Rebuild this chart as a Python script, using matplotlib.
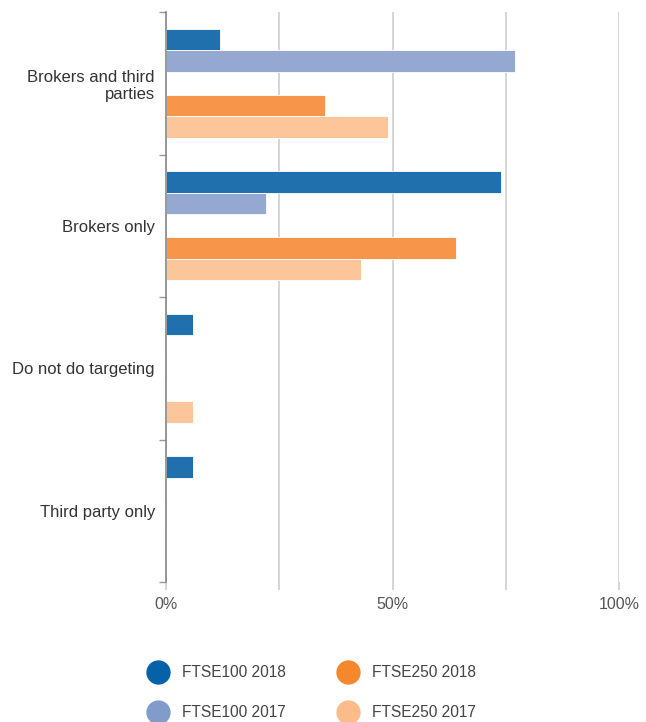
import matplotlib
matplotlib.use("agg")
import matplotlib.pyplot as plt
from matplotlib.lines import Line2D
import numpy as np

plt.rcParams["font.family"] = ["Liberation Sans", "DejaVu Sans"]

categories = ["Brokers and third\nparties", "Brokers only", "Do not do targeting", "Third party only"]
series_names = ["FTSE100 2018", "FTSE100 2017", "FTSE250 2018", "FTSE250 2017"]
ftse100_2018 = [12, 74, 6, 6]
ftse100_2017 = [77, 22, 0, 0]
ftse250_2018 = [35, 64, 0, 0]
ftse250_2017 = [49, 43, 6, 0]

bar_colors = ["#2170AE", "#94A8D1", "#F7964A", "#FDC59A"]
legend_colors = ["#0562A9", "#819CCB", "#F5872D", "#FCBC8A"]
offsets = [-0.308, -0.157, 0.157, 0.308]
bar_h = 0.151

fig = plt.figure(figsize=(6.46, 7.22), dpi=100)
ax = fig.add_axes([166 / 646, 1 - 582 / 722, (619 - 166) / 646, 570 / 722])

y = np.arange(len(categories))
for vals, off, col in zip([ftse100_2018, ftse100_2017, ftse250_2018, ftse250_2017], offsets, bar_colors):
    ax.barh(y + off, vals, height=bar_h, color=col, edgecolor="white", linewidth=0.6, zorder=2)

ax.set_xlim(0, 100)
ax.set_ylim(len(categories) - 0.5, -0.5)

ax.set_xticks([0, 25, 50, 75, 100])
ax.set_xticklabels(["0%", "", "50%", "", "100%"])
ax.xaxis.grid(True, color="#d0d0d0", linewidth=1.2, zorder=0)
ax.tick_params(axis="x", length=6, width=1.2, color="#d0d0d0", labelcolor="#555555", labelsize=11.5, pad=5)

ax.set_yticks(y)
ax.set_yticklabels(categories, color="#333333", fontsize=12, ha="right", multialignment="right")
ax.set_yticks(np.arange(-0.5, len(categories)), minor=True)
ax.tick_params(axis="y", which="major", length=0, pad=8)
ax.tick_params(axis="y", which="minor", length=5, width=1, color="#999999")

for s in ["top", "right", "bottom"]:
    ax.spines[s].set_visible(False)
ax.spines["left"].set_color("#888888")
ax.spines["left"].set_linewidth(1.2)
ax.spines["left"].set_zorder(3)

handles = [Line2D([], [], marker="o", linestyle="none", markersize=16.5,
                  markerfacecolor=c, markeredgecolor=c) for c in legend_colors]
fig.legend(handles, series_names, ncol=2, loc="center", bbox_to_anchor=(313 / 646, 1 - 692.5 / 722),
           frameon=False, fontsize=11.2, labelcolor="#444444", handletextpad=1.05,
           columnspacing=3.5, labelspacing=1.6, handlelength=1.0)

plt.savefig("out.png", dpi=100)
plt.close()
